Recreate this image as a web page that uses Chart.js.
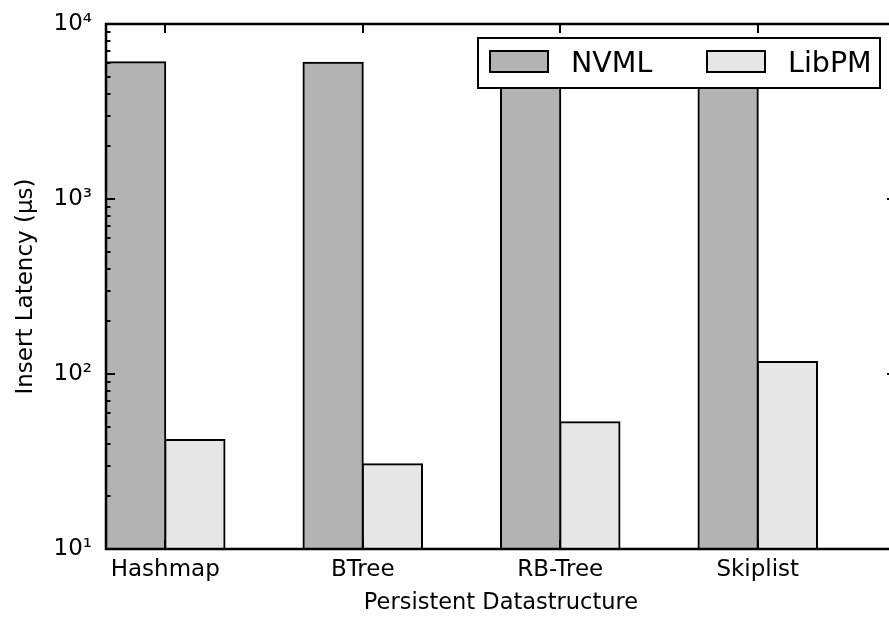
<!DOCTYPE html>
<html><head><meta charset="utf-8">
<script src="https://cdn.jsdelivr.net/npm/chart.js@4/dist/chart.umd.min.js"></script>
<style>
html,body{margin:0;padding:0;overflow:hidden;background:#fff;width:889px;height:617px}
#wrap{width:889px;height:617px;overflow:hidden;position:relative}
canvas{position:absolute;left:0;top:0}
</style></head>
<body><div id="wrap"><canvas id="c" width="905" height="617"></canvas></div>
<script>
const categories = ['Hashmap', 'BTree', 'RB-Tree', 'Skiplist'];
const seriesNames = ['NVML', 'LibPM'];
const nvml = [6050, 6000, 6000, 6000];
const libpm = [42, 30.5, 53, 117];
const yMajor = [10, 100, 1000, 10000];
const yTickLabels = ['10¹', '10²', '10³', '10⁴'];
const xTitle = 'Persistent Datastructure';
const yTitle = 'Insert Latency (μs)';

const FONT = 'DejaVu Sans';
const BAR_W = 0.3;
const groupCenters = categories.map((c, i) => i + BAR_W);

const decor = {
  id: 'decor',
  afterDatasetsDraw(chart) {
    const {ctx, chartArea: a, scales: {x, y}} = chart;
    ctx.save();
    ctx.strokeStyle = '#000';
    ctx.lineWidth = 2;
    for (let d = 0; d < yMajor.length; d++) {
      for (let k = 1; k <= 9; k++) {
        if (d === yMajor.length - 1 && k > 1) break;
        const v = yMajor[d] * k;
        const py = Math.round(y.getPixelForValue(v));
        const len = k === 1 ? 9 : 4.5;
        ctx.beginPath();
        ctx.moveTo(a.left, py); ctx.lineTo(a.left + len, py);
        ctx.moveTo(a.right, py); ctx.lineTo(a.right - len, py);
        ctx.stroke();
      }
    }
    groupCenters.forEach(v => {
      const px = Math.round(x.getPixelForValue(v));
      ctx.beginPath();
      ctx.moveTo(px, a.top); ctx.lineTo(px, a.top + 9);
      ctx.moveTo(px, a.bottom); ctx.lineTo(px, a.bottom - 9);
      ctx.stroke();
    });
    ctx.lineWidth = 2.5;
    ctx.beginPath();
    ctx.rect(a.left, a.top, a.right - a.left, a.bottom - a.top);
    ctx.stroke();
    ctx.restore();
  },
  afterDraw(chart) {
    const {ctx, chartArea: a} = chart;
    const ds = chart.data.datasets;
    const bw = 402, bh = 50;
    const bx = a.right - 16 - bw, by = a.top + 14;
    ctx.save();
    ctx.fillStyle = '#fff';
    ctx.fillRect(bx, by, bw, bh);
    ctx.lineWidth = 2;
    ctx.strokeStyle = '#000';
    ctx.strokeRect(bx, by, bw, bh);
    ctx.font = '28.5px "' + FONT + '"';
    ctx.textBaseline = 'alphabetic';
    ctx.textAlign = 'left';
    const offs = [0, 217];
    ds.forEach((d, i) => {
      const px = bx + 12 + offs[i];
      const py = by + 13;
      ctx.fillStyle = d.backgroundColor;
      ctx.fillRect(px, py, 58, 21);
      ctx.strokeRect(px, py, 58, 21);
      ctx.fillStyle = '#000';
      ctx.fillText(d.label, px + 81, by + 34);
    });
    ctx.restore();
  }
};

new Chart(document.getElementById('c'), {
  type: 'bar',
  data: {
    datasets: [
      {label: seriesNames[0], data: nvml.map((v, i) => ({x: i + BAR_W / 2, y: v})),
       backgroundColor: '#b3b3b3'},
      {label: seriesNames[1], data: libpm.map((v, i) => ({x: i + BAR_W * 1.5, y: v})),
       backgroundColor: '#e6e6e6'}
    ]
  },
  options: {
    responsive: false,
    animation: false,
    devicePixelRatio: 1,
    layout: {padding: {left: 0, top: 24, right: 9, bottom: 0}},
    datasets: {bar: {grouped: false, categoryPercentage: 1, barPercentage: 1,
      borderColor: '#000', borderWidth: 2, inflateAmount: 1}},
    plugins: {legend: {display: false}, tooltip: {enabled: false}},
    scales: {
      x: {
        type: 'linear', min: 0, max: categories.length, offset: false,
        grid: {display: false, drawTicks: false, offset: false},
        border: {display: false},
        afterBuildTicks: s => { s.ticks = groupCenters.map(v => ({value: v})); },
        afterFit: s => { s.height = 68; s.paddingLeft = 0; s.paddingRight = 0; },
        ticks: {
          autoSkip: false, maxRotation: 0, padding: 7, color: '#000',
          font: {family: FONT, size: 23},
          callback: v => categories[Math.round(v - BAR_W)]
        },
        title: {display: true, text: xTitle, color: '#000',
          font: {family: FONT, size: 22.5}, padding: {top: 0, bottom: 0}}
      },
      y: {
        type: 'logarithmic', min: yMajor[0], max: yMajor[yMajor.length - 1],
        grid: {display: false, drawTicks: false},
        border: {display: false},
        afterBuildTicks: s => { s.ticks = yMajor.map(v => ({value: v, major: true})); },
        afterFit: s => { s.width = 106; s.paddingTop = 0; s.paddingBottom = 0; },
        ticks: {
          autoSkip: false, padding: 14, color: '#000',
          font: {family: FONT, size: 23},
          callback: v => yTickLabels[yMajor.indexOf(v)]
        },
        title: {display: true, text: yTitle, color: '#000',
          font: {family: FONT, size: 23}, padding: {top: 12, bottom: 0}}
      }
    }
  },
  plugins: [decor]
});
</script>
</body></html>
